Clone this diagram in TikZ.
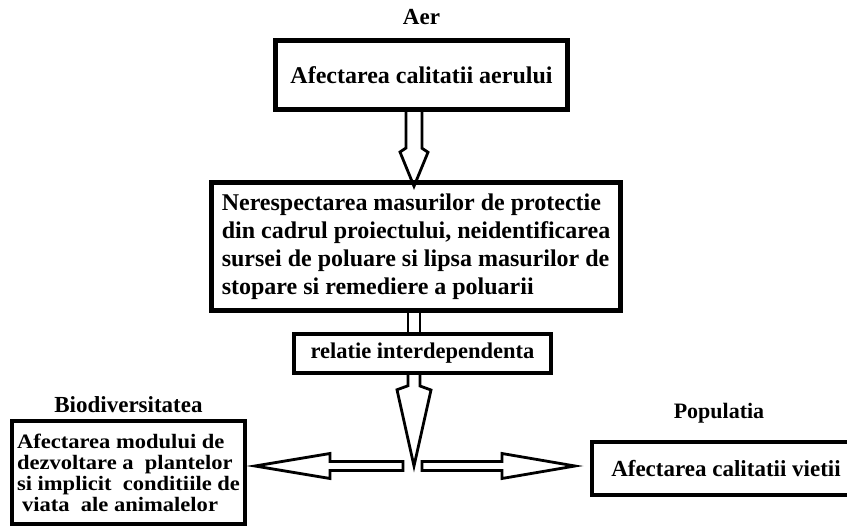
\documentclass[tikz,border=0pt]{standalone}
\usepackage{fontspec}
\setmainfont{Liberation Serif}
\newfontfamily\latit[FakeStretch=1.1]{Liberation Serif}
\usetikzlibrary{positioning,calc}

\tikzset{
  casuta/.style={draw,rectangle,line width=4pt,inner sep=0pt,
    font=\bfseries\fontsize{24}{28}\selectfont},
  titlu/.style={inner sep=0pt,font=\bfseries\fontsize{23}{26}\selectfont},
  goala/.style={draw,line width=2.8pt},
}

\begin{document}
\begin{tikzpicture}[x=1pt,y=-1pt]
    \clip (0,0) rectangle (847,529);
    \node[casuta,line width=5pt,minimum width=292,minimum height=69] (aerbox) at (421.5,75) {Afectarea calitatii aerului};
    \node[titlu,above=13pt of aerbox] (aer) {Aer};
    \node[casuta,line width=4.5pt,minimum width=409,minimum height=128,align=left] (cauze) at (416,246.5)
        {Nerespectarea masurilor de protectie\\din cadrul proiectului, neidentificarea\\sursei de poluare si lipsa masurilor de\\stopare si remediere a poluarii};
    \node[casuta,line width=3.5pt,minimum width=257,minimum height=39,
        font=\bfseries\fontsize{22.5}{26}\selectfont] (relatie) at (422.5,353.5) {relatie interdependenta};
    \node[casuta,minimum width=233,minimum height=103,align=left,
        font=\latit\bfseries\fontsize{20.5}{21}\selectfont] (biobox) at (128.5,472.5)
        {Afectarea modului de\\dezvoltare a~ plantelor\\si implicit~ conditiile de\\\hspace{5pt}viata~ ale animalelor};
    \node[titlu,above=6pt of biobox] (bio) {Biodiversitatea};
    \node[casuta,minimum width=268,minimum height=53,
        font=\bfseries\fontsize{23}{26}\selectfont] (popbox) at (726,468.5) {Afectarea calitatii vietii};
    \node[titlu,font=\bfseries\fontsize{22}{26}\selectfont,above=17pt of popbox,xshift=-7pt] (pop) {Populatia};
    \coordinate (centru) at (414,466);

    \draw[goala] ([xshift=-8pt]centru |- aerbox.south) -- ++(0,36) -- ++(-6,4)
        -- ([yshift=-6pt]centru |- cauze.north) -- ++(14,-34) -- ++(-6,-4) -- ++(0,-36);
    \draw[goala] ([xshift=-6pt]centru |- cauze.south) -- ([xshift=-6pt]centru |- relatie.north);
    \draw[goala] ([xshift=6pt]centru |- cauze.south) -- ([xshift=6pt]centru |- relatie.north);
    \draw[goala] ([xshift=-6pt]centru |- relatie.south) -- ++(0,11) -- ++(-11,4)
        -- (centru) -- ++(17,-76) -- ++(-11,-4) -- ++(0,-11);
    \draw[goala] ([xshift=-11pt,yshift=4.5pt]centru) -- ++(-73,0) -- ++(0,-8)
        -- ([xshift=8pt]biobox.east |- centru) -- ++(75,12.5) -- ++(0,-8) -- ++(73,0) -- cycle;
    \draw[goala] ([xshift=8pt,yshift=4.5pt]centru) -- ++(80,0) -- ++(0,-8)
        -- ([xshift=-15pt]popbox.west |- centru) -- ++(-73,12.5) -- ++(0,-8) -- ++(-80,0) -- cycle;
\end{tikzpicture}
\end{document}
